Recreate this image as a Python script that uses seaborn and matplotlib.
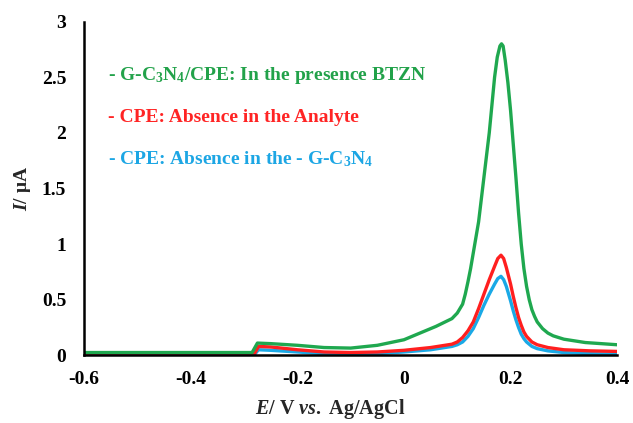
import matplotlib
matplotlib.use("Agg")
import matplotlib.pyplot as plt
import seaborn as sns
import pandas as pd

# ---- data ----
green_x = [-0.6, -0.285, -0.275, -0.25, -0.2, -0.15, -0.1, -0.05, 0.0, 0.03, 0.06, 0.09, 0.1, 0.11, 0.115,
           0.12, 0.125, 0.13, 0.135, 0.14, 0.145, 0.15, 0.155, 0.16, 0.165, 0.17, 0.175, 0.18, 0.183,
           0.186, 0.19, 0.195, 0.2, 0.205, 0.21, 0.215, 0.22, 0.225, 0.23, 0.235, 0.24, 0.245, 0.25,
           0.26, 0.27, 0.28, 0.3, 0.34, 0.4]
green_y = [0.025, 0.025, 0.11, 0.105, 0.09, 0.07, 0.065, 0.09, 0.14, 0.2, 0.26, 0.33, 0.38, 0.46, 0.55,
           0.66, 0.78, 0.92, 1.06, 1.2, 1.4, 1.6, 1.8, 2.0, 2.25, 2.5, 2.68, 2.78, 2.8,
           2.78, 2.65, 2.45, 2.2, 1.9, 1.6, 1.28, 1.0, 0.78, 0.62, 0.5, 0.41, 0.35, 0.3,
           0.24, 0.2, 0.175, 0.145, 0.115, 0.095]

red_x = [-0.6, -0.28, -0.273, -0.25, -0.2, -0.15, -0.1, -0.05, 0.0, 0.05, 0.09, 0.1, 0.11, 0.12, 0.13,
         0.14, 0.15, 0.16, 0.17, 0.176, 0.182, 0.187, 0.192, 0.2, 0.205, 0.21, 0.215, 0.22, 0.225,
         0.23, 0.24, 0.25, 0.27, 0.3, 0.35, 0.4]
red_y = [0.02, 0.02, 0.08, 0.075, 0.05, 0.03, 0.025, 0.03, 0.045, 0.07, 0.1, 0.12, 0.16, 0.22, 0.3,
         0.42, 0.55, 0.68, 0.8, 0.87, 0.9, 0.87, 0.79, 0.64, 0.53, 0.43, 0.34, 0.27, 0.21,
         0.17, 0.12, 0.095, 0.07, 0.05, 0.04, 0.035]

blue_x = [-0.6, -0.28, -0.273, -0.25, -0.2, -0.15, -0.1, -0.05, 0.0, 0.05, 0.09, 0.1, 0.11, 0.12, 0.13,
          0.14, 0.15, 0.16, 0.17, 0.176, 0.182, 0.187, 0.192, 0.2, 0.205, 0.21, 0.215, 0.22, 0.225,
          0.23, 0.24, 0.25, 0.27, 0.3, 0.35, 0.4]
blue_y = [0.01, 0.01, 0.05, 0.045, 0.03, 0.015, 0.01, 0.015, 0.03, 0.05, 0.08, 0.095, 0.12, 0.17, 0.24,
          0.34, 0.45, 0.55, 0.64, 0.69, 0.71, 0.68, 0.62, 0.49, 0.4, 0.32, 0.25, 0.19, 0.15,
          0.12, 0.08, 0.06, 0.04, 0.025, 0.015, 0.01]

series_names = ["G-C3N4/CPE + BTZN", "CPE", "CPE blank"]
legend_texts = [r"- G-C$_3$N$_4$/CPE: In the presence BTZN",
                "- CPE: Absence in the Analyte",
                r"- CPE: Absence in the - G-C$_3$N$_4$"]
colors = ["#1FA84F", "#FF1F1F", "#1AA9E6"]
text_colors = ["#22A24A", "#FF2424", "#1CA6E4"]

x_ticks = [-0.6, -0.4, -0.2, 0, 0.2, 0.4]
x_ticklabels = ["-0.6", "-0.4", "-0.2", "0", "0.2", "0.4"]
y_ticks = [0, 0.5, 1, 1.5, 2, 2.5, 3]
y_ticklabels = ["0", "0.5", "1", "1.5", "2", "2.5", "3"]

df = pd.concat([
    pd.DataFrame({"E": blue_x, "I": blue_y, "s": series_names[2]}),
    pd.DataFrame({"E": red_x, "I": red_y, "s": series_names[1]}),
    pd.DataFrame({"E": green_x, "I": green_y, "s": series_names[0]}),
])

sns.set_style("white")
plt.rcParams["font.family"] = ["Liberation Serif", "DejaVu Serif"]
plt.rcParams["font.weight"] = "bold"
plt.rcParams["mathtext.fontset"] = "custom"
plt.rcParams["mathtext.rm"] = "Liberation Serif:bold"
plt.rcParams["mathtext.bf"] = "Liberation Serif:bold"
plt.rcParams["mathtext.it"] = "Liberation Serif:italic:bold"

fig = plt.figure(figsize=(6.33, 4.23), dpi=100)
ax = fig.add_axes([0.133, 0.16, 0.842, 0.789])

palette = {series_names[0]: colors[0], series_names[1]: colors[1], series_names[2]: colors[2]}
sns.lineplot(data=df, x="E", y="I", hue="s", palette=palette, sort=False,
             estimator=None, linewidth=2.4, legend=False, ax=ax)
for ln in ax.get_lines():
    ln.set_solid_joinstyle("round")
    ln.set_solid_capstyle("round")

ax.set_xlim(-0.6, 0.4)
ax.set_ylim(0, 3)
ax.set_xticks(x_ticks)
ax.set_xticklabels(x_ticklabels)
ax.set_yticks(y_ticks)
ax.set_yticklabels(y_ticklabels)
for sp in ["top", "right"]:
    ax.spines[sp].set_visible(False)
for sp in ["left", "bottom"]:
    ax.spines[sp].set_color("black")
    ax.spines[sp].set_linewidth(1.8)
ax.tick_params(axis="both", direction="out", length=5, width=1.5, color="black",
               labelsize=14, labelcolor="black", pad=8)
ax.tick_params(axis="x", pad=6)
for lab in ax.get_xticklabels() + ax.get_yticklabels():
    lab.set_fontweight("bold")

ax.set_xlabel(r"$E$/ V $vs.$ Ag/AgCl", fontsize=14.5, fontweight="bold", labelpad=7)
ax.xaxis.label.set_x(0.462)
ax.set_ylabel(r"$I$/ μA", fontsize=14, fontweight="bold", labelpad=6)

ys = [0.837, 0.712, 0.587]
for t, c, yy in zip(legend_texts, text_colors, ys):
    ax.text(0.045, yy, t, transform=ax.transAxes, color=c, fontsize=14,
            fontweight="bold", va="center", ha="left")

fig.savefig("out.png", dpi=100, facecolor="white")
